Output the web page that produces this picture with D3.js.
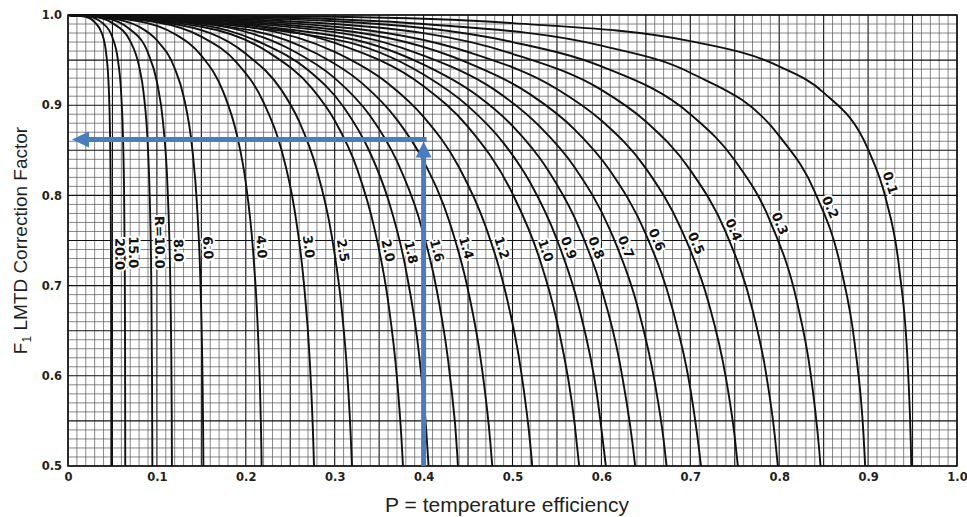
<!DOCTYPE html>
<html>
<head>
<meta charset="utf-8">
<script src="https://cdn.jsdelivr.net/npm/d3@7/dist/d3.min.js"></script>
<style>
  body { margin: 0; background: #fff; }
  svg { display: block; }
  .tick text { font-family: "DejaVu Sans", sans-serif; font-weight: bold; font-size: 11.5px; fill: #231f20; }
  .axis-title { font-family: "Liberation Sans", Arial, sans-serif; fill: #231f20; }
  .curve-label { font-family: "DejaVu Sans", sans-serif; font-weight: bold; font-size: 13px; fill: #111;
                 stroke: #fff; stroke-width: 4px; paint-order: stroke; stroke-linejoin: round; }
</style>
</head>
<body>
<div class="chart"></div>
<script>
// F vs P curves, one per R as [P, F]
const r0_1 = [[0,1],[0.3,0.998],[0.5,0.991],[0.7,0.971],[0.8,0.943],[0.85,0.914],[0.9,0.851],[0.92,0.796],[0.935,0.719],[0.945,0.604],[0.948,0.527],[0.9486,0.5]];
const r0_2 = [[0,1],[0.2,0.998],[0.4,0.990],[0.6,0.966],[0.7,0.936],[0.8,0.866],[0.84,0.804],[0.87,0.717],[0.885,0.635],[0.895,0.532],[0.8967,0.5]];
const r0_3 = [[0,1],[0.3,0.993],[0.5,0.970],[0.6,0.943],[0.7,0.890],[0.75,0.839],[0.79,0.771],[0.82,0.682],[0.835,0.605],[0.845,0.518],[0.8465,0.5]];
const r0_4 = [[0,1],[0.3,0.990],[0.5,0.957],[0.6,0.917],[0.65,0.882],[0.7,0.828],[0.74,0.759],[0.77,0.673],[0.785,0.604],[0.795,0.534],[0.7985,0.5]];
const r0_5 = [[0,1],[0.3,0.987],[0.45,0.959],[0.55,0.918],[0.6,0.883],[0.65,0.830],[0.69,0.762],[0.72,0.683],[0.74,0.598],[0.75,0.532],[0.7535,0.5]];
const r0_6 = [[0,1],[0.3,0.984],[0.45,0.947],[0.52,0.912],[0.57,0.873],[0.61,0.827],[0.65,0.757],[0.68,0.674],[0.70,0.586],[0.71,0.517],[0.712,0.5]];
const r0_7 = [[0,1],[0.3,0.981],[0.4,0.955],[0.48,0.917],[0.53,0.877],[0.57,0.831],[0.61,0.761],[0.64,0.679],[0.66,0.593],[0.67,0.529],[0.6733,0.5]];
const r0_8 = [[0,1],[0.3,0.977],[0.4,0.945],[0.46,0.911],[0.5,0.877],[0.54,0.828],[0.57,0.775],[0.6,0.697],[0.62,0.618],[0.635,0.525],[0.638,0.5]];
const r0_9 = [[0,1],[0.3,0.973],[0.4,0.934],[0.45,0.899],[0.49,0.858],[0.52,0.814],[0.55,0.751],[0.575,0.675],[0.595,0.579],[0.605,0.5]];
const r1_0 = [[0,1],[0.1,0.999],[0.2,0.990],[0.3,0.969],[0.4,0.921],[0.45,0.876],[0.5,0.802],[0.53,0.731],[0.55,0.660],[0.57,0.546],[0.575,0.5]];
const r1_2 = [[0,1],[0.2,0.987],[0.3,0.959],[0.36,0.924],[0.4,0.887],[0.44,0.831],[0.47,0.765],[0.49,0.701],[0.51,0.603],[0.52,0.524],[0.5222,0.5]];
const r1_4 = [[0,1],[0.2,0.984],[0.28,0.957],[0.33,0.925],[0.37,0.884],[0.40,0.838],[0.43,0.768],[0.45,0.695],[0.465,0.613],[0.475,0.527],[0.4772,0.5]];
const r1_6 = [[0,1],[0.15,0.991],[0.25,0.962],[0.3,0.930],[0.34,0.888],[0.37,0.838],[0.395,0.774],[0.415,0.694],[0.43,0.597],[0.438,0.511],[0.4386,0.5]];
const r1_8 = [[0,1],[0.15,0.989],[0.22,0.968],[0.27,0.939],[0.31,0.898],[0.34,0.847],[0.36,0.796],[0.38,0.718],[0.395,0.623],[0.403,0.539],[0.4056,0.5]];
const r2_0 = [[0,1],[0.15,0.987],[0.225,0.959],[0.275,0.918],[0.3,0.883],[0.325,0.830],[0.345,0.762],[0.36,0.683],[0.37,0.598],[0.375,0.532],[0.3768,0.5]];
const r2_5 = [[0,1],[0.12,0.990],[0.2,0.957],[0.24,0.917],[0.26,0.882],[0.28,0.828],[0.296,0.759],[0.308,0.673],[0.314,0.604],[0.318,0.534],[0.3194,0.5]];
const r3_0 = [[0,1],[0.1,0.992],[0.15,0.976],[0.19,0.947],[0.22,0.903],[0.24,0.851],[0.255,0.783],[0.265,0.706],[0.272,0.616],[0.276,0.524],[0.2767,0.5]];
const r4_0 = [[0,1],[0.08,0.993],[0.12,0.979],[0.15,0.955],[0.175,0.914],[0.19,0.867],[0.2,0.814],[0.208,0.741],[0.213,0.663],[0.216,0.584],[0.2175,0.520],[0.2178,0.5]];
const r6_0 = [[0,1],[0.05,0.996],[0.08,0.987],[0.1,0.972],[0.12,0.941],[0.13,0.910],[0.14,0.850],[0.145,0.791],[0.149,0.703],[0.151,0.618],[0.152,0.541],[0.1523,0.5]];
const r8_0 = [[0,1],[0.04,0.997],[0.07,0.984],[0.09,0.958],[0.1,0.926],[0.107,0.880],[0.112,0.808],[0.115,0.708],[0.116,0.640],[0.1167,0.556],[0.1169,0.5]];
const r10_0 = [[0,1],[0.03,0.998],[0.05,0.991],[0.07,0.971],[0.08,0.943],[0.085,0.914],[0.09,0.851],[0.092,0.796],[0.0935,0.719],[0.0945,0.604],[0.0948,0.527],[0.0949,0.5]];
const r15_0 = [[0,1],[0.02,0.999],[0.04,0.990],[0.05,0.975],[0.056,0.951],[0.06,0.910],[0.062,0.860],[0.063,0.809],[0.0638,0.724],[0.0642,0.627],[0.0644,0.5]];
const r20_0 = [[0,1],[0.02,0.998],[0.03,0.992],[0.038,0.980],[0.043,0.957],[0.046,0.916],[0.047,0.882],[0.048,0.805],[0.0485,0.695],[0.0487,0.555],[0.04875,0.5]];

// curve labels and the F level where each label sits
const labelTexts  = ['0.1','0.2','0.3','0.4','0.5','0.6','0.7','0.8','0.9','1.0','1.2','1.4','1.6','1.8','2.0','2.5','3.0','4.0','6.0','8.0','R=10.0','15.0','20.0'];
const labelLevels = [0.814,0.787,0.769,0.762,0.747,0.751,0.743,0.742,0.742,0.739,0.742,0.742,0.739,0.737,0.739,0.739,0.743,0.743,0.742,0.739,0.748,0.737,0.735];
const curveData = [r0_1,r0_2,r0_3,r0_4,r0_5,r0_6,r0_7,r0_8,r0_9,r1_0,r1_2,r1_4,r1_6,r1_8,r2_0,r2_5,r3_0,r4_0,r6_0,r8_0,r10_0,r15_0,r20_0];

const xTicks = [0,0.1,0.2,0.3,0.4,0.5,0.6,0.7,0.8,0.9,1.0];
const xTickLabels = ['0','0.1','0.2','0.3','0.4','0.5','0.6','0.7','0.8','0.9','1.0'];
const yTicks = [0.5,0.6,0.7,0.8,0.9,1.0];

// worked example drawn in blue
const exampleP = 0.4;
const exampleF = 0.862;

const margin = ({top: 15, right: 10, bottom: 51, left: 68});
const width = 967 - margin.left - margin.right,
      height = 517 - margin.top - margin.bottom;

const svg = d3.select(".chart").append("svg")
  .attr("width", 967)
  .attr("height", 517)
  .append("g")
  .attr("transform", "translate(" + margin.left + "," + margin.top + ")");

const x = d3.scaleLinear().domain([0, 1]).range([0, width]);
const y = d3.scaleLinear().domain([0.5, 1]).range([height, 0]);

// grid, 0.01 steps, heavier every 0.05
const gridX = d3.range(0, 101).map(i => i / 100);
const gridY = d3.range(50, 101).map(i => i / 100);
const isMajor = v => Math.abs(Math.round(v * 100) % 5) === 0;

const grid = svg.append("g").attr("class", "grid");
grid.selectAll(".vx").data(gridX).enter().append("line")
  .attr("x1", d => x(d)).attr("x2", d => x(d))
  .attr("y1", 0).attr("y2", height)
  .attr("stroke", d => isMajor(d) ? "#111" : "#555")
  .attr("stroke-width", d => isMajor(d) ? 1.1 : 0.7);
grid.selectAll(".hy").data(gridY).enter().append("line")
  .attr("y1", d => y(d)).attr("y2", d => y(d))
  .attr("x1", 0).attr("x2", width)
  .attr("stroke", d => isMajor(d) ? "#111" : "#555")
  .attr("stroke-width", d => isMajor(d) ? 1.1 : 0.7);

svg.append("rect")
  .attr("width", width).attr("height", height)
  .attr("fill", "none").attr("stroke", "#111").attr("stroke-width", 1.5);

// curves
const line = d3.line()
  .x(d => x(d[0]))
  .y(d => y(d[1]))
  .curve(d3.curveMonotoneX);

const paths = svg.append("g").selectAll("path")
  .data(curveData)
  .enter().append("path")
  .attr("d", line)
  .attr("fill", "none")
  .attr("stroke", "#111")
  .attr("stroke-width", 1.9);

// labels sit just right of each curve, turned along it
const labels = svg.append("g");
paths.each(function(d, i) {
  const path = this;
  const total = path.getTotalLength();
  const target = y(labelLevels[i]);
  let lo = 0, hi = total;
  for (let k = 0; k < 40; k++) {
    const mid = (lo + hi) / 2;
    if (path.getPointAtLength(mid).y < target) lo = mid; else hi = mid;
  }
  const p = path.getPointAtLength(lo);
  const a = path.getPointAtLength(Math.max(0, lo - 5));
  const b = path.getPointAtLength(Math.min(total, lo + 5));
  const angle = Math.atan2(b.y - a.y, b.x - a.x) * 180 / Math.PI;
  labels.append("text")
    .attr("class", "curve-label")
    .attr("transform", "translate(" + (p.x + 9) + "," + p.y + ") rotate(" + angle + ")")
    .attr("text-anchor", "middle")
    .attr("dy", "0.36em")
    .text(labelTexts[i]);
});

// axes
const xAxis = d3.axisBottom(x)
  .tickValues(xTicks)
  .tickFormat((d, i) => xTickLabels[i])
  .tickSize(0)
  .tickPadding(7);
const yAxis = d3.axisLeft(y)
  .tickValues(yTicks)
  .tickFormat(d3.format(".1f"))
  .tickSize(0)
  .tickPadding(6);

svg.append("g")
  .attr("class", "axis x-axis")
  .attr("transform", "translate(0," + height + ")")
  .call(xAxis)
  .call(g => g.select(".domain").remove());
svg.append("g")
  .attr("class", "axis y-axis")
  .call(yAxis)
  .call(g => g.select(".domain").remove());

svg.append("text")
  .attr("class", "axis-title")
  .attr("font-size", "21px")
  .attr("x", 439)
  .attr("y", height + 46)
  .attr("text-anchor", "middle")
  .text("P = temperature efficiency");

const yTitle = svg.append("text")
  .attr("class", "axis-title")
  .attr("font-size", "19px")
  .attr("transform", "translate(-41," + (height / 2) + ") rotate(-90)")
  .attr("text-anchor", "middle");
yTitle.append("tspan").text("F");
yTitle.append("tspan").attr("font-size", "12px").attr("dy", "4").text("1");
yTitle.append("tspan").attr("dy", "-4").text(" LMTD Correction Factor");

// blue arrows
const blue = "#4a7dbf";
const ex = x(exampleP), ey = y(exampleF);
svg.append("line")
  .attr("x1", ex).attr("x2", ex)
  .attr("y1", height).attr("y2", ey + 16)
  .attr("stroke", blue).attr("stroke-width", 5);
svg.append("path")
  .attr("d", "M" + ex + "," + (ey + 2) + "L" + (ex - 8) + "," + (ey + 18) + "L" + (ex + 8) + "," + (ey + 18) + "Z")
  .attr("fill", blue);
svg.append("line")
  .attr("x1", ex + 3).attr("x2", x(0) + 18)
  .attr("y1", ey).attr("y2", ey)
  .attr("stroke", blue).attr("stroke-width", 5);
svg.append("path")
  .attr("d", "M" + (x(0) + 4) + "," + ey + "L" + (x(0) + 21) + "," + (ey - 8) + "L" + (x(0) + 21) + "," + (ey + 8) + "Z")
  .attr("fill", blue);
</script>
</body>
</html>
